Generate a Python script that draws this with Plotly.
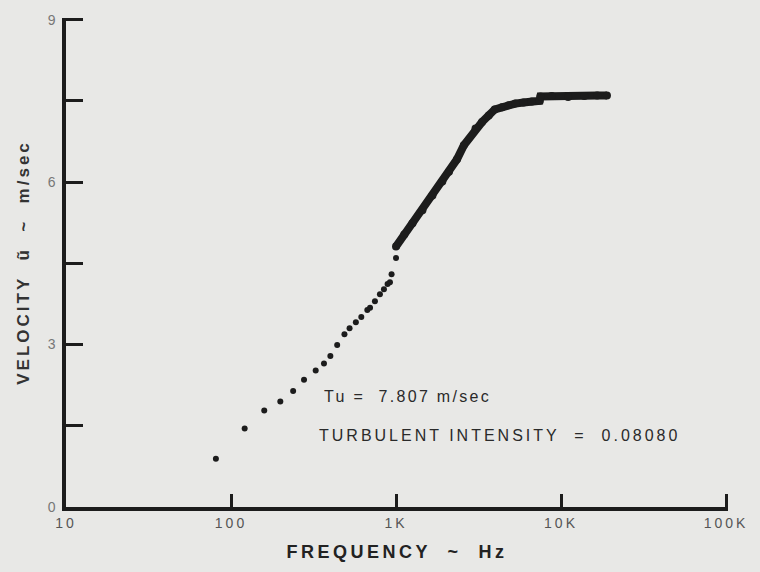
import plotly.graph_objects as go

# Sparse measured points (Hz, m/sec)
freq_sparse = [81, 121, 159, 199, 238, 277, 326, 366, 400, 440, 487, 523, 571,
               616, 670, 696, 745, 799, 845, 889, 919, 940, 1000]
vel_sparse = [0.89, 1.45, 1.78, 1.95, 2.14, 2.35, 2.52, 2.65, 2.79, 2.99, 3.19,
              3.30, 3.41, 3.51, 3.64, 3.68, 3.80, 3.93, 4.02, 4.12, 4.15, 4.30, 4.60]

# Dense part of the record (points merge into a thick trace)
freq_dense = [1000, 1122, 1259, 1446, 1662, 1909, 2095, 2341, 2579, 3033, 3324,
              3648, 3965, 4387, 4814, 5284, 5928, 6651, 7422, 7505, 8777, 11040,
              13840, 16570, 18980]
vel_dense = [4.81, 5.03, 5.24, 5.48, 5.75, 6.01, 6.19, 6.42, 6.68, 6.99, 7.11,
             7.23, 7.34, 7.38, 7.42, 7.45, 7.47, 7.49, 7.50, 7.58, 7.59, 7.57,
             7.59, 7.60, 7.60]

x_tickvals = [10, 100, 1000, 10000, 100000]
x_ticklabels = ["10", "100", "1K", "10K", "100K"]
y_tickvals = [0, 1.5, 3, 4.5, 6, 7.5, 9]
y_ticklabels = ["0", "", "3", "", "6", "", "9"]

tu_text = "Tu =  7.807 m/sec"
ti_text = "TURBULENT INTENSITY  =  0.08080"

BG = "#e8e8e6"
INK = "#1c1c1c"
FONT = "Liberation Sans, Arial, sans-serif"


def spaced(t, ls):
    if not t:
        return t
    return f'<span style="letter-spacing:{ls}px">{t}</span>'


fig = go.Figure()
fig.add_trace(go.Scatter(
    x=freq_sparse, y=vel_sparse, mode="markers",
    marker=dict(size=6, color=INK), showlegend=False, hoverinfo="skip"))
fig.add_trace(go.Scatter(
    x=freq_dense, y=vel_dense, mode="lines+markers",
    line=dict(color=INK, width=8), marker=dict(size=8, color=INK),
    showlegend=False, hoverinfo="skip"))

fig.add_annotation(
    x=0.386, y=2.04, xref="paper", yref="y", xanchor="left", yanchor="middle",
    text=spaced(tu_text, 2.3), showarrow=False,
    font=dict(family=FONT, size=16, color="#2a2a2a"))
fig.add_annotation(
    x=0.379, y=1.32, xref="paper", yref="y", xanchor="left", yanchor="middle",
    text=spaced(ti_text, 3), showarrow=False,
    font=dict(family=FONT, size=16, color="#2a2a2a"))

fig.update_layout(
    width=760, height=572,
    margin=dict(l=66, r=28, t=16, b=65),
    paper_bgcolor=BG, plot_bgcolor=BG,
    font=dict(family=FONT, color=INK),
    xaxis=dict(
        type="log", range=[1, 5.012], tickmode="array", tickvals=x_tickvals,
        ticktext=[spaced(t, 3) for t in x_ticklabels],
        ticks="inside", ticklen=13, tickwidth=3, tickcolor=INK,
        showline=True, linewidth=3.5, linecolor=INK, showgrid=False,
        zeroline=False, tickfont=dict(family=FONT, size=14, color="#555555"),
        title=dict(text='<b>' + spaced("FREQUENCY  ~  Hz", 3.5) + '</b>',
                   font=dict(family=FONT, size=18, color="#222222"), standoff=17),
    ),
    yaxis=dict(
        range=[0, 9.03], tickmode="array", tickvals=y_tickvals,
        ticktext=y_ticklabels, ticklabelstandoff=4,
        ticks="inside", ticklen=17, tickwidth=3, tickcolor=INK,
        showline=True, linewidth=3.5, linecolor=INK, showgrid=False,
        zeroline=False, tickfont=dict(family=FONT, size=14, color="#777777"),
        title=dict(text='<b>' + spaced("VELOCITY  ũ  ~  m/sec", 3) + '</b>',
                   font=dict(family=FONT, size=17, color="#333333"), standoff=15),
    ),
)

fig.write_html("out.html")
